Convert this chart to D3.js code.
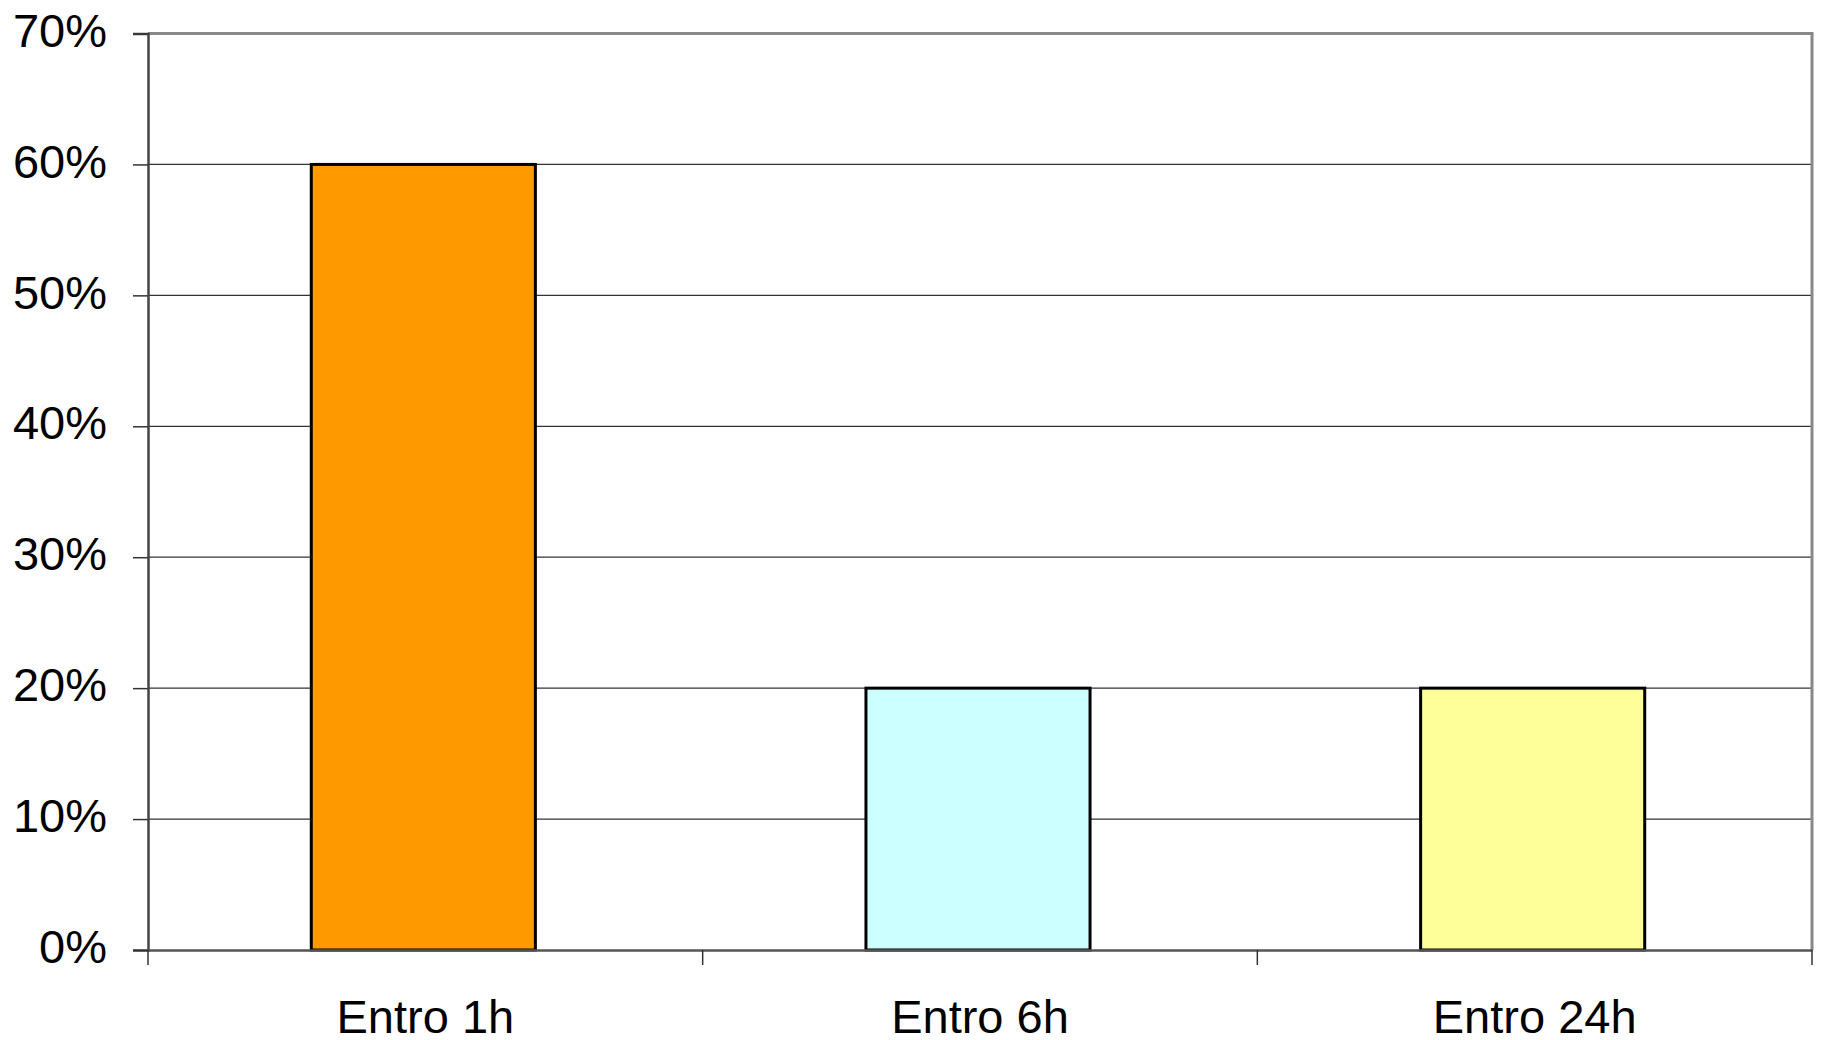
<!DOCTYPE html>
<html><head><meta charset="utf-8">
<script src="https://cdn.jsdelivr.net/npm/d3@7"></script>
<style>html,body{margin:0;padding:0;background:#fff;}svg{display:block;}</style>
</head><body>
<script>
const categories = ["Entro 1h", "Entro 6h", "Entro 24h"];
const values = [0.60, 0.20, 0.20];
const barColors = ["#FF9900", "#CCFFFF", "#FFFF99"];
const yTicks = [0, 0.1, 0.2, 0.3, 0.4, 0.5, 0.6, 0.7];

const W = 1821, H = 1040;
const m = {left: 148, right: 1812, top: 33.5, bottom: 950};
const svg = d3.select("body").append("svg").attr("width", W).attr("height", H);

const x = d3.scaleBand().domain(categories).range([m.left, m.right]).padding(0);
const y = d3.scaleLinear().domain([0, 0.7]).range([m.bottom, m.top]);
const font = "'Liberation Sans', Arial, sans-serif";

// gridlines
svg.append("g").selectAll("line").data(yTicks.filter(t => t > 0 && t < 0.7)).join("line")
  .attr("x1", m.left).attr("x2", m.right)
  .attr("y1", d => y(d)).attr("y2", d => y(d))
  .attr("stroke", "#333").attr("stroke-width", 1.2);

// top and right border
svg.append("line").attr("x1", m.left).attr("x2", m.right + 1.5).attr("y1", y(0.7)).attr("y2", y(0.7))
  .attr("stroke", "#888").attr("stroke-width", 3);
svg.append("line").attr("x1", m.right).attr("x2", m.right).attr("y1", y(0.7)).attr("y2", m.bottom)
  .attr("stroke", "#888").attr("stroke-width", 3);

// bars
const bw = x.bandwidth() * 0.404;
svg.append("g").selectAll("rect").data(categories).join("rect")
  .attr("x", d => x(d) + x.bandwidth() / 2 - bw / 2 - 2)
  .attr("width", bw)
  .attr("y", (d, i) => y(values[i]))
  .attr("height", (d, i) => y(0) - y(values[i]))
  .attr("fill", (d, i) => barColors[i])
  .attr("stroke", "#000").attr("stroke-width", 3);

// y axis
const yAxis = svg.append("g").attr("transform", `translate(${m.left},0)`)
  .call(d3.axisLeft(y).tickValues(yTicks).tickFormat(d3.format(".0%")).tickSize(15).tickPadding(26));
yAxis.select(".domain").attr("stroke", "#444").attr("stroke-width", 2.5);
yAxis.selectAll(".tick line").attr("stroke", "#333").attr("stroke-width", 1.5);
yAxis.selectAll(".tick text").attr("font-family", font).attr("font-size", 47).attr("fill", "#000")
  .attr("dy", "0.27em");

// x axis
const xAxis = svg.append("g").attr("transform", `translate(0,${m.bottom})`)
  .call(d3.axisBottom(x).tickSize(0).tickPadding(50));
xAxis.select(".domain").attr("stroke", "#555").attr("stroke-width", 2.5);
xAxis.selectAll(".tick text").attr("font-family", font).attr("font-size", 47).attr("fill", "#000")
  .attr("dy", "0.71em");
// category separators ticks
const bounds = categories.map(c => x(c)).concat([m.right]);
svg.append("g").selectAll("line").data(bounds).join("line")
  .attr("x1", d => d).attr("x2", d => d).attr("y1", m.bottom).attr("y2", m.bottom + 15)
  .attr("stroke", "#333").attr("stroke-width", 1.5);
</script>
</body></html>
